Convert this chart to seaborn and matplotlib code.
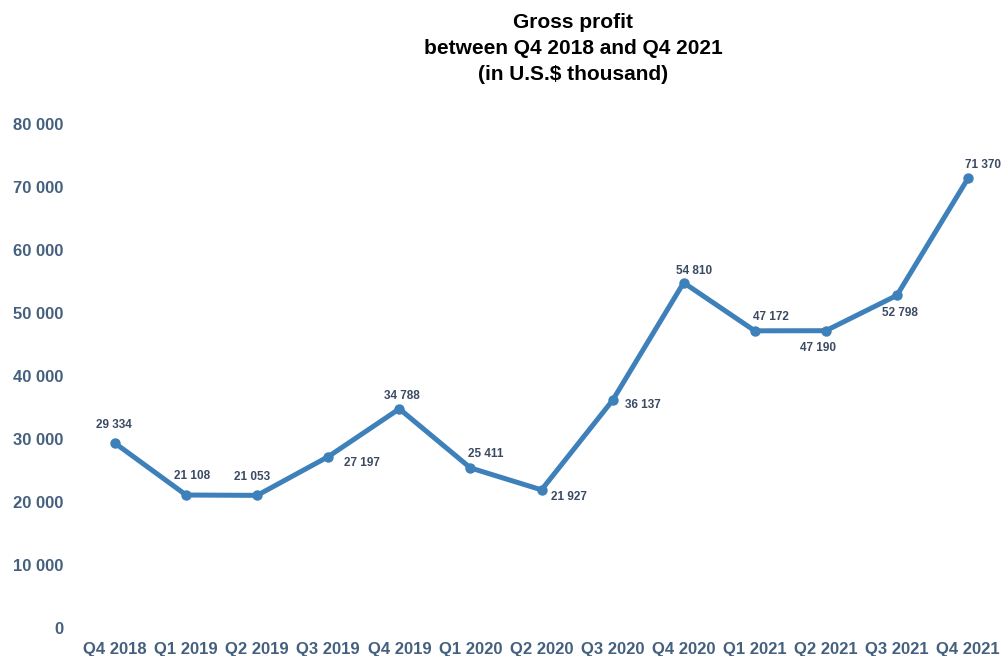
import matplotlib
matplotlib.use("Agg")
import matplotlib.pyplot as plt
import seaborn as sns
import pandas as pd

quarters = ["Q4 2018", "Q1 2019", "Q2 2019", "Q3 2019", "Q4 2019", "Q1 2020", "Q2 2020",
            "Q3 2020", "Q4 2020", "Q1 2021", "Q2 2021", "Q3 2021", "Q4 2021"]
gross_profit = [29334, 21108, 21053, 27197, 34788, 25411, 21927,
                36137, 54810, 47172, 47190, 52798, 71370]
y_ticks = [0, 10000, 20000, 30000, 40000, 50000, 60000, 70000, 80000]
title_lines = ["Gross profit", "between Q4 2018 and Q4 2021", "(in U.S.$ thousand)"]

# label offsets in pixels (dx, dy)
label_offsets = [(-1, 18), (6, 19), (-5, 18), (34, -6), (3, 13), (15, 14), (27, -7),
                 (30, -5), (10, 12), (16, 14), (-8, -17), (3, -18), (15, 13)]

sns.set_theme(style="white")
plt.rcParams['font.family'] = ['Liberation Sans', 'DejaVu Sans']

W, H = 1003, 656
fig = plt.figure(figsize=(W / 100, H / 100), dpi=100)
ax_left, ax_right, ax_bottom, ax_top = 80, 1000, 628, 124
ax = fig.add_axes([ax_left / W, 1 - ax_bottom / H, (ax_right - ax_left) / W, (ax_bottom - ax_top) / H])

df = pd.DataFrame({"quarter": quarters, "value": gross_profit})
line_color = "#3d80ba"
sns.lineplot(data=df, x="quarter", y="value", ax=ax, sort=False, color=line_color,
             linewidth=3.6, marker="o", markersize=7.5, markeredgewidth=0,
             markerfacecolor=line_color)

px_per_unit = (968 - 115) / 12
ax.set_xlim(-(115 - ax_left) / px_per_unit, 12 + (ax_right - 968) / px_per_unit)
ax.set_ylim(0, 80000)
ax.set_yticks(y_ticks)
tick_color = "#44607f"
ax.set_yticklabels([f"{v:,}".replace(",", " ") for v in y_ticks], fontsize=12,
                   fontweight="bold", color=tick_color)
ax.set_xticks(range(len(quarters)))
ax.set_xticklabels(quarters, fontsize=12, fontweight="bold", color=tick_color)
ax.tick_params(axis="y", length=0, pad=12)
ax.tick_params(axis="x", length=0, pad=10)
ax.set_xlabel("")
ax.set_ylabel("")
for s in ax.spines.values():
    s.set_visible(False)
ax.grid(False)

label_color = "#3b4a63"
for i, (v, (dx, dy)) in enumerate(zip(gross_profit, label_offsets)):
    ax.annotate(f"{v:,}".replace(",", " "), (i, v), xytext=(dx, dy),
                textcoords="offset pixels", ha="center", va="center",
                fontsize=8.5, fontweight="bold", color=label_color)

for k, t in enumerate(title_lines):
    fig.text(573 / W, 1 - (22 + 26 * k) / H, t, ha="center", va="center",
             fontsize=15, fontweight="bold", color="black")

fig.savefig("out.png", dpi=100)
